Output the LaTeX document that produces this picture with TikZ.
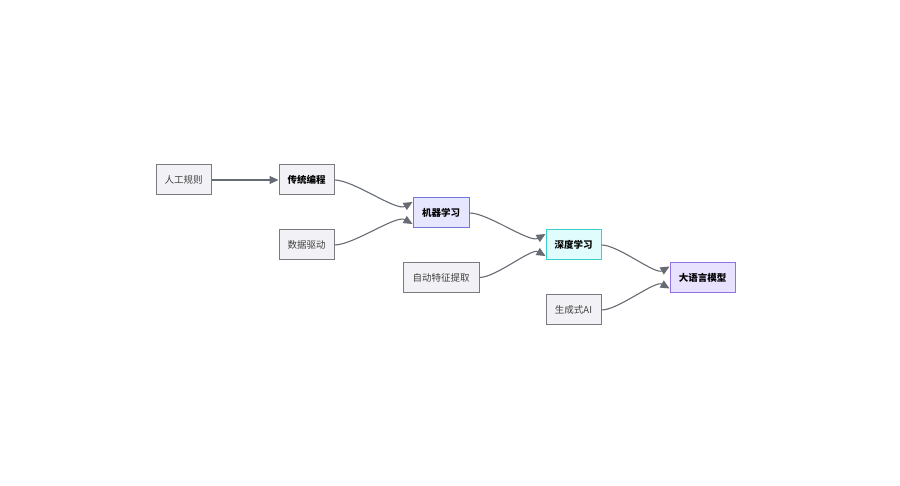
\documentclass[tikz,border=0pt]{standalone}
\usepackage{fontspec}
\setmainfont{Noto Sans CJK SC}
\usetikzlibrary{arrows.meta}
\definecolor{gb}{HTML}{F2F2F6}
\definecolor{gd}{HTML}{7A7A80}
\definecolor{ml}{HTML}{E6E6FF}
\definecolor{mlb}{HTML}{7272E0}
\definecolor{dl}{HTML}{E0FCFC}
\definecolor{dlb}{HTML}{3CCFD0}
\definecolor{lm}{HTML}{E9E2FF}
\definecolor{lmb}{HTML}{9272E0}
\definecolor{ar}{HTML}{676B73}
\begin{document}
\begin{tikzpicture}[x=1pt,y=-1pt,
 box/.style={draw=gd,fill=gb,line width=1pt,minimum height=30pt,inner xsep=5pt,font=\fontsize{9.5}{11}\selectfont,text=black!75},
 key/.style={box,font=\fontsize{9.5}{11}\selectfont\bfseries,text=black},
 con/.style={draw=ar,line width=1.1pt,-{Triangle[length=9pt,width=8pt]}}]
\useasboundingbox (0,0) rectangle (900,486);
\node[box,minimum width=55pt] (a) at (183.5,180) {人工规则};
\node[key,minimum width=55pt] (b) at (306.5,180) {传统编程};
\node[box,minimum width=55pt] (c) at (306.5,245) {数据驱动};
\node[key,minimum width=56pt,fill=ml,draw=mlb] (d) at (441,213) {机器学习};
\node[box,minimum width=76pt] (e) at (441,277.5) {自动特征提取};
\node[key,minimum width=55pt,fill=dl,draw=dlb] (f) at (573.5,245) {深度学习};
\node[box,minimum width=55pt] (g) at (573.5,310) {生成式AI};
\node[key,minimum width=65pt,fill=lm,draw=lmb] (h) at (702.5,277.5) {大语言模型};
\draw[con] (a) -- (b);
\draw[con] (b.east) to[out=0,in=210,looseness=0.6] ([yshift=11pt]d.west);
\draw[con] (c.east) to[out=0,in=150,looseness=0.6] ([yshift=-11pt]d.west);
\draw[con] (d.east) to[out=0,in=210,looseness=0.6] ([yshift=11pt]f.west);
\draw[con] (e.east) to[out=0,in=150,looseness=0.6] ([yshift=-11pt]f.west);
\draw[con] (f.east) to[out=0,in=210,looseness=0.6] ([yshift=11pt]h.west);
\draw[con] (g.east) to[out=0,in=150,looseness=0.6] ([yshift=-11pt]h.west);
\end{tikzpicture}
\end{document}
